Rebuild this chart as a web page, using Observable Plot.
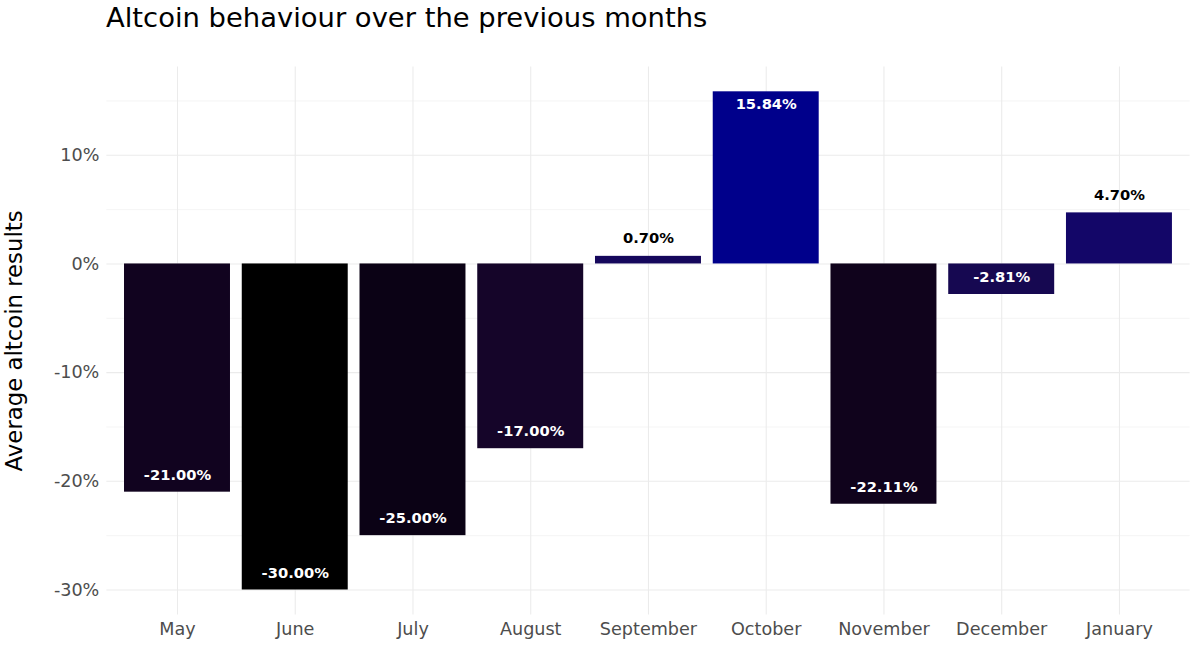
<!DOCTYPE html>
<html><head><meta charset="utf-8">
<script src="https://cdn.jsdelivr.net/npm/d3@7"></script>
<script src="https://cdn.jsdelivr.net/npm/@observablehq/plot@0.6"></script>
<style>
body{margin:0;background:#fff;font-family:"DejaVu Sans",sans-serif;}
#wrap{position:relative;width:1195px;height:651px;overflow:hidden;}
#title{position:absolute;left:106px;top:0px;font-size:27.4px;line-height:35px;color:#000;white-space:nowrap;z-index:2;}
#chart{position:absolute;left:0;top:0;}
</style></head><body>
<div id="wrap"><div id="title">Altcoin behaviour over the previous months</div><div id="chart"></div></div>
<script>
const months = ["May","June","July","August","September","October","November","December","January"];
const values = [-21.00, -30.00, -25.00, -17.00, 0.70, 15.84, -22.11, -2.81, 4.70];
const majorTicks = [-30, -20, -10, 0, 10];
const minorTicks = [-25, -15, -5, 5, 15];
const yTitle = "Average altcoin results";

const data = months.map((m, i) => ({month: m, value: values[i], label: values[i].toFixed(2) + "%"}));
const vmin = d3.min(values), vmax = d3.max(values);
const pad = (vmax - vmin) * 0.05;

const negInside = data.filter(d => d.value < 0);
const posInside = data.filter(d => d.value > 10);
const posAbove = data.filter(d => d.value >= 0 && d.value <= 10);

const chart = Plot.plot({
  width: 1195, height: 651,
  marginLeft: 106.35, marginRight: 5.4, marginTop: 66.4, marginBottom: 36.6,
  style: {fontFamily: '"DejaVu Sans", sans-serif', background: "white", overflow: "visible"},
  x: {domain: months, paddingInner: 0.1, paddingOuter: 0.15, round: false, label: null},
  y: {domain: [vmin - pad, vmax + pad], label: null},
  color: {type: "linear", domain: [vmin, vmax], range: ["black", "darkblue"], interpolate: "lab"},
  marks: [
    Plot.ruleY(minorTicks, {stroke: "#ebebeb", strokeWidth: 0.55}),
    Plot.ruleY(majorTicks, {stroke: "#ebebeb", strokeWidth: 1.07}),
    Plot.ruleX(months, {x: d => d, stroke: "#ebebeb", strokeWidth: 1.07}),
    Plot.barY(data, {x: "month", y1: 0, y2: "value", fill: "value"}),
    Plot.text(negInside, {x: "month", y: "value", text: "label", fill: "white", fontWeight: "bold", fontSize: 14.7, dy: -17}),
    Plot.text(posInside, {x: "month", y: "value", text: "label", fill: "white", fontWeight: "bold", fontSize: 14.7, dy: 12}),
    Plot.text(posAbove, {x: "month", y: "value", text: "label", fill: "black", fontWeight: "bold", fontSize: 14.7, dy: -18}),
    Plot.axisY(majorTicks, {tickFormat: d => d + "%", tickSize: 0, tickPadding: 7.5, fontSize: 17.6, fill: "#4d4d4d", label: null}),
    Plot.axisX({tickSize: 0, tickPadding: 8, fontSize: 17.6, fill: "#4d4d4d", label: null}),
    Plot.text([yTitle], {frameAnchor: "left", textAnchor: "middle", dx: -92, rotate: -90, text: d => d, fontSize: 22.8, fill: "black"})
  ]
});
document.getElementById("chart").appendChild(chart);
</script>
</body></html>
